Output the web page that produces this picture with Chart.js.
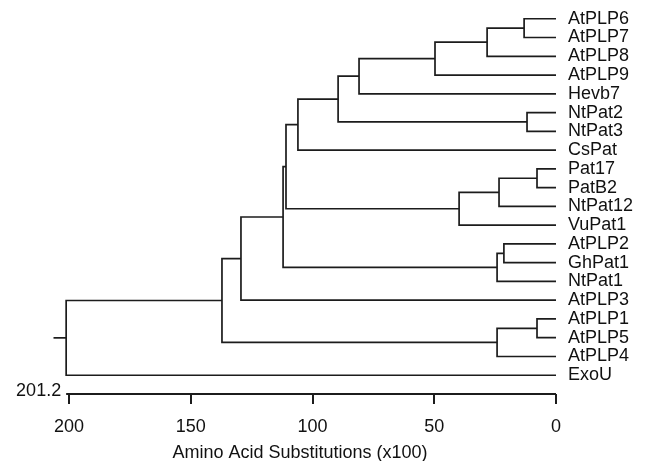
<!DOCTYPE html>
<html>
<head>
<meta charset="utf-8">
<script src="https://cdn.jsdelivr.net/npm/chart.js@4.4.1/dist/chart.umd.min.js"></script>
<style>
    body { margin: 0; background: #fff; }
    #wrap { width: 645px; height: 461px; position: relative; }
</style>
</head>
<body>
<div id="wrap"><canvas id="tree"></canvas></div>
<script>
// leaves, top to bottom
const leaves = ['AtPLP6', 'AtPLP7', 'AtPLP8', 'AtPLP9', 'Hevb7', 'NtPat2', 'NtPat3', 'CsPat',
    'Pat17', 'PatB2', 'NtPat12', 'VuPat1', 'AtPLP2', 'GhPat1', 'NtPat1', 'AtPLP3',
    'AtPLP1', 'AtPLP5', 'AtPLP4', 'ExoU'];

// merge k joins mergeA[k] and mergeB[k] into cluster 'n' + k at mergeHeight[k]
const mergeA = ['AtPLP6', 'n0', 'n1', 'n2', 'NtPat2', 'n3', 'n5', 'Pat17', 'n7', 'n8',
    'n6', 'AtPLP2', 'n11', 'n10', 'n13', 'AtPLP1', 'n15', 'n14', 'n17'];
const mergeB = ['AtPLP7', 'AtPLP8', 'AtPLP9', 'Hevb7', 'NtPat3', 'n4', 'CsPat', 'PatB2', 'NtPat12', 'VuPat1',
    'n9', 'GhPat1', 'NtPat1', 'n12', 'AtPLP3', 'AtPLP5', 'AtPLP4', 'n16', 'ExoU'];
const mergeHeight = [13.1, 28.3, 49.7, 80.9, 11.9, 89.5, 106.0, 7.8, 23.4, 39.8,
    110.9, 21.4, 24.2, 112.1, 129.4, 7.8, 24.2, 137.2, 201.2];

const rootStub = 5.2;
const xTicks = [200, 150, 100, 50, 0];
const xTitle = 'Amino Acid Substitutions (x100)';

const ink = '#1c1c1c';
Chart.defaults.font.family = "'Liberation Sans', Arial, sans-serif";
Chart.defaults.font.size = 18;
Chart.defaults.color = '#111';

// build the elbows
let pos = {};
leaves.forEach((name, i) => { pos[name] = {x: 0, y: i}; });
let datasets = [];
mergeHeight.forEach((h, k) => {
    let a = pos[mergeA[k]];
    let b = pos[mergeB[k]];
    datasets.push({
        data: [{x: a.x, y: a.y}, {x: h, y: a.y}, {x: h, y: b.y}, {x: b.x, y: b.y}]
    });
    pos['n' + k] = {x: h, y: (a.y + b.y) / 2};
});
let root = pos['n' + (mergeHeight.length - 1)];
datasets.push({data: [{x: root.x, y: root.y}, {x: root.x + rootStub, y: root.y}]});
// the axis bar runs from the root depth to 0
const axisRow = leaves.length;
datasets.push({data: [{x: root.x, y: axisRow}, {x: 0, y: axisRow}], borderWidth: 2.2});

datasets.forEach(d => {
    d.showLine = true;
    d.pointRadius = 0;
    d.borderColor = ink;
    d.borderWidth = d.borderWidth || 1.7;
    d.borderJoinStyle = 'miter';
    d.clip = false;
});

// depth label left of the axis bar
const depthLabel = {
    id: 'depthLabel',
    afterDraw(chart) {
        let ctx = chart.ctx;
        let x = chart.scales.x.getPixelForValue(root.x);
        let y = chart.scales.y.getPixelForValue(axisRow);
        ctx.save();
        ctx.font = "18px 'Liberation Sans', Arial, sans-serif";
        ctx.fillStyle = '#111';
        ctx.textAlign = 'right';
        ctx.textBaseline = 'alphabetic';
        ctx.fillText(root.x.toFixed(1), x - 5, y + 2);
        ctx.restore();
    }
};

new Chart(document.getElementById('tree'), {
    type: 'scatter',
    data: {datasets: datasets},
    options: {
        responsive: true,
        maintainAspectRatio: false,
        animation: false,
        layout: {padding: {left: 44, top: 0, right: 0, bottom: 0}},
        plugins: {legend: {display: false}, tooltip: {enabled: false}},
        scales: {
            x: {
                type: 'linear',
                reverse: true,
                min: 0,
                max: 210.3,
                afterBuildTicks: (scale) => { scale.ticks = xTicks.map(v => ({value: v})); },
                afterFit: (scale) => {
                    scale.height = 67;
                    scale.paddingLeft = 0;
                    scale.paddingRight = 0;
                },
                border: {display: false},
                grid: {display: true, drawOnChartArea: false, drawTicks: true, tickLength: 10, lineWidth: 2, color: ink},
                ticks: {padding: 12, maxRotation: 0, autoSkip: false, color: '#111'},
                title: {display: true, text: xTitle, color: '#111', padding: {top: 0, bottom: -3}}
            },
            y: {
                type: 'linear',
                position: 'right',
                reverse: true,
                min: -1,
                max: axisRow,
                afterBuildTicks: (scale) => { scale.ticks = leaves.map((n, i) => ({value: i})); },
                afterFit: (scale) => {
                    scale.width = 89;
                    scale.paddingTop = 0;
                    scale.paddingBottom = 0;
                },
                border: {display: false},
                grid: {display: false, drawTicks: false},
                ticks: {padding: 12, autoSkip: false, color: '#111', callback: (v) => leaves[v]}
            }
        }
    },
    plugins: [depthLabel]
});
</script>
</body>
</html>
